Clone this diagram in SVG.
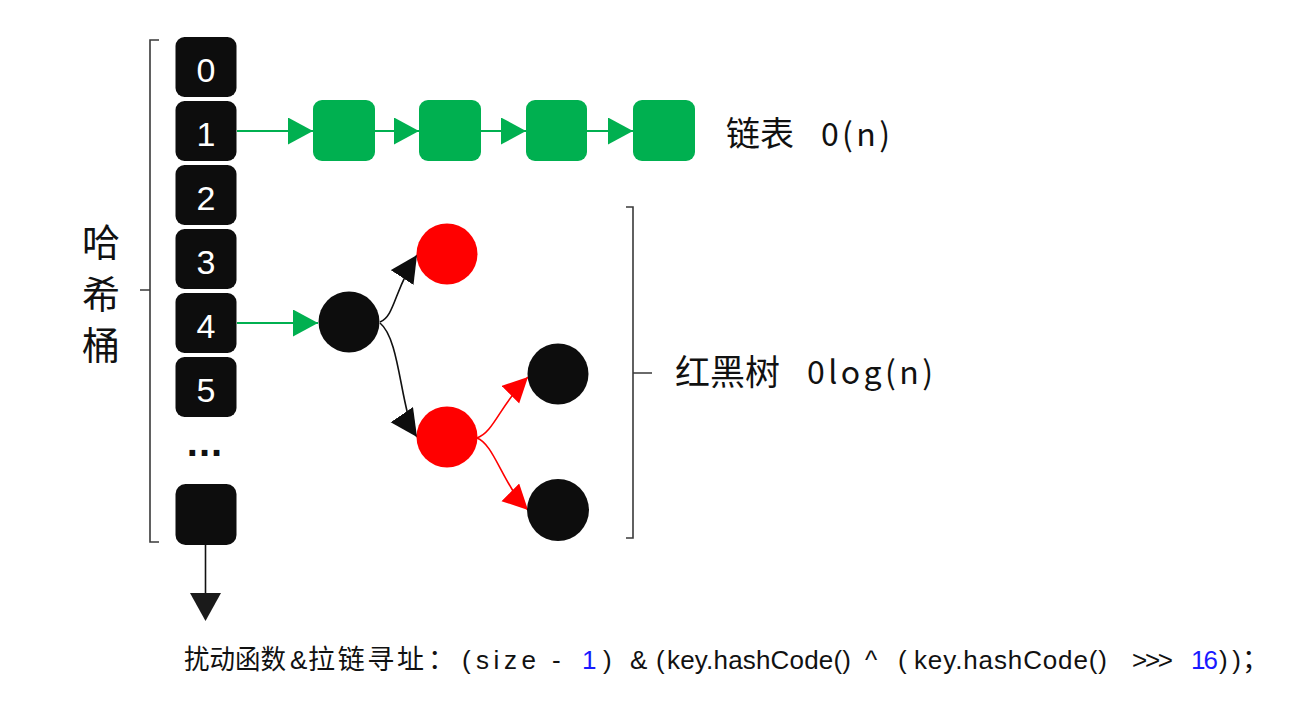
<svg xmlns="http://www.w3.org/2000/svg" width="1311" height="716" viewBox="0 0 1311 716">
  <style>
    .bucket { fill: #0d0d0d; }
    .idx { fill: #ffffff; font-family: "Liberation Sans", Arial, sans-serif; font-size: 34px; text-anchor: middle; }
    .gbox { fill: #00b050; }
    .blk { fill: #0d0d0d; }
    .red { fill: #ff0000; }
    .br { fill: none; stroke: #3a3a3a; stroke-width: 1.6; }
    .lbl { fill: #111111; font-family: "Noto Sans CJK SC", "Noto Sans", sans-serif; }
    .lat { fill: #111111; font-family: "Liberation Sans", Arial, sans-serif; }
    .code { font-size: 26px; }
    .cjk { font-size: 27px; }
    .num { fill: #1a1aff; }
    .gline { fill: none; stroke: #00b050; stroke-width: 2; }
    .bline { fill: none; stroke: #111111; stroke-width: 1.6; }
    .rline { fill: none; stroke: #ff0000; stroke-width: 1.6; }
  </style>
  <defs>
    <marker id="ag" markerUnits="userSpaceOnUse" markerWidth="26" markerHeight="28" refX="25" refY="13.5" orient="auto">
      <path d="M0,0 L25,13.5 L0,27 z" fill="#00b050"/>
    </marker>
    <marker id="ab" markerUnits="userSpaceOnUse" markerWidth="28" markerHeight="28" refX="27" refY="13.5" orient="auto">
      <path d="M0,0 L27,13.5 L0,27 z" fill="#0d0d0d"/>
    </marker>
    <marker id="ar" markerUnits="userSpaceOnUse" markerWidth="26" markerHeight="26" refX="25" refY="12.5" orient="auto">
      <path d="M0,0 L25,12.5 L0,25 z" fill="#ff0000"/>
    </marker>
  </defs>
  <rect x="0" y="0" width="1311" height="716" fill="#ffffff"/>

  <!-- brackets -->
  <g id="bracket-left">
    <path class="br" d="M159,40 L150,40 L150,542 L159,542 M150,290 L140,290"/>
  </g>
  <g id="label-hash">
    <text class="lbl" font-size="38" text-anchor="middle"><tspan x="101" y="256">哈</tspan><tspan x="101" y="308">希</tspan><tspan x="101" y="359">桶</tspan></text>
  </g>

  <!-- connectors -->
  <g id="connectors">
    <line class="gline" x1="237" y1="131" x2="313" y2="131" marker-end="url(#ag)"/>
    <line class="gline" x1="375" y1="131" x2="419" y2="131" marker-end="url(#ag)"/>
    <line class="gline" x1="481" y1="131" x2="526" y2="131" marker-end="url(#ag)"/>
    <line class="gline" x1="587" y1="131" x2="633" y2="131" marker-end="url(#ag)"/>
    <line class="gline" x1="237" y1="323" x2="318" y2="323" marker-end="url(#ag)"/>
    <path class="bline" d="M380,322 C395,316 394,290 417,255" marker-end="url(#ab)"/>
    <path class="bline" d="M380,323 C401,340 400,412 417,437" marker-end="url(#ab)"/>
    <path class="rline" d="M477,438 C494,432 500,405 528,377" marker-end="url(#ar)"/>
    <path class="rline" d="M477,438 C494,444 503,485 528,510" marker-end="url(#ar)"/>
    <line class="bline" x1="205.5" y1="545" x2="205.5" y2="596"/>
    <path d="M190,593 L221,593 L205.5,621 z" fill="#1a1a1a"/>
  </g>

  <!-- hash buckets -->
  <g id="bucket-0"><rect class="bucket" x="175.5" y="37" width="61" height="60" rx="9"/><text class="idx" x="206" y="82">0</text></g>
  <g id="bucket-1"><rect class="bucket" x="175.5" y="101" width="61" height="60" rx="9"/><text class="idx" x="206" y="146">1</text></g>
  <g id="bucket-2"><rect class="bucket" x="175.5" y="165" width="61" height="60" rx="9"/><text class="idx" x="206" y="210">2</text></g>
  <g id="bucket-3"><rect class="bucket" x="175.5" y="229" width="61" height="60" rx="9"/><text class="idx" x="206" y="274">3</text></g>
  <g id="bucket-4"><rect class="bucket" x="175.5" y="293" width="61" height="60" rx="9"/><text class="idx" x="206" y="338">4</text></g>
  <g id="bucket-5"><rect class="bucket" x="175.5" y="357" width="61" height="60" rx="9"/><text class="idx" x="206" y="402">5</text></g>
  <g id="bucket-dots"><text x="205" y="456" font-family="Liberation Sans, Arial, sans-serif" font-size="40" font-weight="bold" text-anchor="middle" fill="#111111" letter-spacing="1">...</text></g>
  <g id="bucket-n"><rect class="bucket" x="175.5" y="484" width="61" height="61" rx="10"/></g>

  <!-- linked list -->
  <g id="list-1"><rect class="gbox" x="313" y="100" width="62" height="61" rx="9"/></g>
  <g id="list-2"><rect class="gbox" x="419" y="100" width="62" height="61" rx="9"/></g>
  <g id="list-3"><rect class="gbox" x="526" y="100" width="61" height="61" rx="9"/></g>
  <g id="list-4"><rect class="gbox" x="633" y="100" width="62" height="61" rx="9"/></g>
  <g id="label-list">
    <text class="lbl" x="726" y="146" font-size="34">链表</text>
    <text class="lbl" x="821" y="146" font-size="32" textLength="69" lengthAdjust="spacing">0(n)</text>
  </g>

  <!-- red-black tree -->
  <g id="rb-root"><circle class="blk" cx="349" cy="322" r="30.5"/></g>
  <g id="rb-red-top"><circle class="red" cx="447" cy="254" r="30.5"/></g>
  <g id="rb-red-bottom"><circle class="red" cx="447" cy="437" r="30.5"/></g>
  <g id="rb-black-top"><circle class="blk" cx="558" cy="374" r="30.5"/></g>
  <g id="rb-black-bottom"><circle class="blk" cx="558" cy="510" r="31"/></g>

  <g id="bracket-right">
    <path class="br" d="M626,207 L633,207 L633,538 L626,538 M633,373 L652,373"/>
  </g>
  <g id="label-tree">
    <text class="lbl" x="675" y="385" font-size="35">红黑树</text>
    <text class="lbl" x="807" y="384" font-size="32" textLength="126" lengthAdjust="spacing">0log(n)</text>
  </g>

  <!-- formula -->
  <g id="formula">
    <text class="lbl cjk" x="184" y="669" textLength="102" lengthAdjust="spacingAndGlyphs">扰动函数</text>
    <text class="lat code" x="290" y="669">&amp;</text>
    <text class="lbl cjk" x="308" y="669" textLength="116" lengthAdjust="spacing">拉链寻址</text>
    <text class="lbl cjk" x="428" y="669">：</text>
    <text class="lat code" x="462" y="669">(</text>
    <text class="lat code" x="476" y="669" textLength="60" lengthAdjust="spacing">size</text>
    <text class="lat code" x="552" y="669">-</text>
    <text class="lat code num" x="582" y="669">1</text>
    <text class="lat code" x="603" y="669">)</text>
    <text class="lat code" x="630" y="669">&amp;</text>
    <text class="lat code" x="656" y="669">(</text>
    <text class="lat code" x="667" y="669" textLength="184" lengthAdjust="spacing">key.hashCode()</text>
    <text class="lat code" x="865" y="669">^</text>
    <text class="lat code" x="898" y="669">(</text>
    <text class="lat code" x="914" y="669" textLength="193" lengthAdjust="spacing">key.hashCode()</text>
    <text class="lat code" x="1132" y="669" textLength="41" lengthAdjust="spacing">&gt;&gt;&gt;</text>
    <text class="lat code num" x="1191" y="669" textLength="27" lengthAdjust="spacing">16</text>
    <text class="lat code" x="1219" y="669" textLength="22" lengthAdjust="spacing">))</text>
    <text class="lbl cjk" x="1242" y="669">；</text>
  </g>
</svg>
